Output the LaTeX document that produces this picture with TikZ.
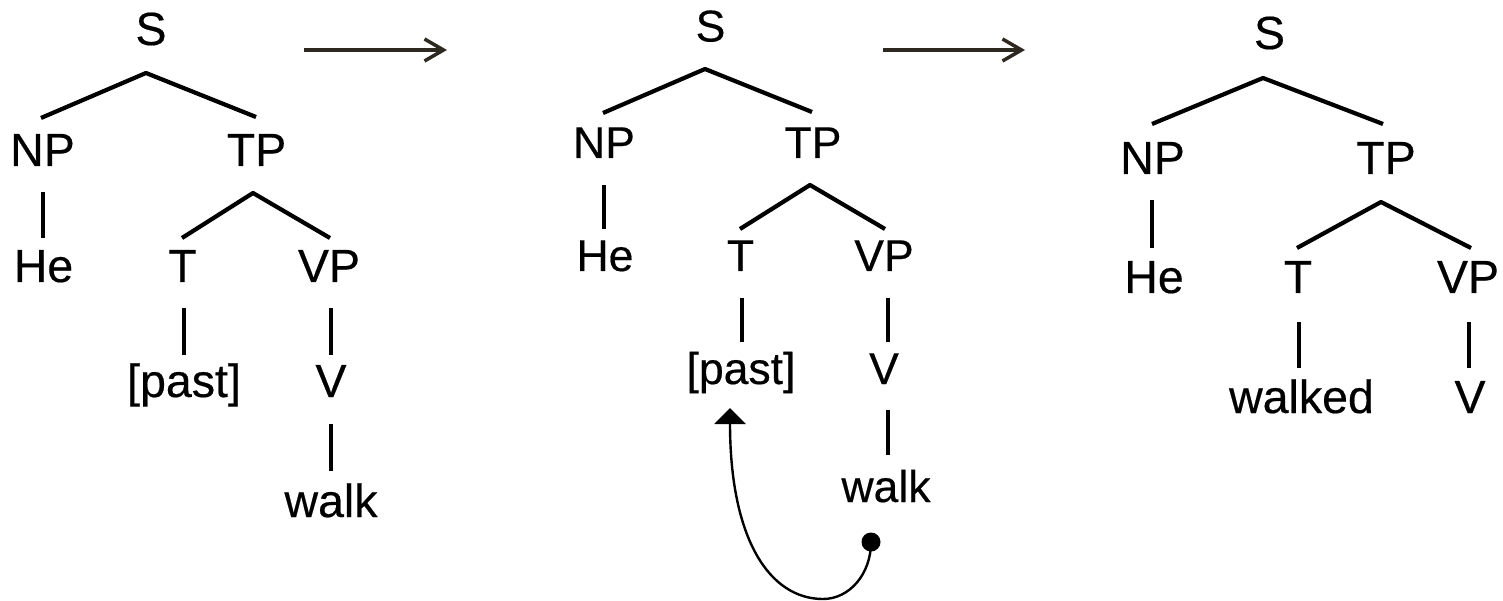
\documentclass[tikz,border=0pt]{standalone}
\usepackage{fontspec}
\setmainfont[FakeBold=0.4]{Liberation Sans}
\usetikzlibrary{calc,arrows.meta}
\definecolor{arrowcol}{RGB}{45,41,32}
\begin{document}
\begin{tikzpicture}[x=1pt,y=-1pt,
  labA/.style={anchor=base,inner sep=0pt,font=\fontsize{46.5}{50}\selectfont},
  labB/.style={anchor=base,inner sep=0pt,font=\fontsize{44.5}{48}\selectfont},
  branch/.style={line width=4.2pt,line join=round},
  steparrow/.style={arrowcol,line width=3.5pt,-{Straight Barb[length=19pt,width=22pt]}},
  move/.style={line width=2.4pt,-{Triangle[length=16pt,width=31pt]}},
  dotnode/.style={circle,fill=black,inner sep=0pt,minimum size=19pt}]
\useasboundingbox (0,0) rectangle (1503,601);
% ---------- tree 1 ----------
\node[labA] (S1) at (151,45) {S};
\node[labA] (NP1) at (42.5,166) {NP};
\node[labA] (TP1) at (256.5,166) {TP};
\node[labA] (He1) at (43.5,282) {He};
\node[labA] (T1) at (182.5,282) {T};
\node[labA] (VP1) at (329,282) {VP};
\node[labA] (past1) at (184,397) {[past]};
\node[labA] (V1) at (331,397) {V};
\node[labA] (walk1) at (331,517) {walk};
\draw[branch] ($(NP1.base)+(-1.5,-48)$) -- ($(S1.base)+(-5,28)$) -- ($(TP1.base)+(-0.5,-49)$);
\draw[branch] ($(NP1.base)+(0.5,26)$) -- ($(He1.base)+(-0.5,-44)$);
\draw[branch] ($(T1.base)+(-0.5,-44)$) -- ($(TP1.base)+(-3.5,27)$) -- ($(VP1.base)+(1,-44)$);
\draw[branch] ($(T1.base)+(1.5,26)$) -- ($(past1.base)+(0,-42)$);
\draw[branch] ($(VP1.base)+(1.7,26)$) -- ($(V1.base)+(-0.3,-42)$);
\draw[branch] ($(V1.base)+(0,27)$) -- ($(walk1.base)+(0,-46)$);
% ---------- arrow 1 ----------
\coordinate (a1s) at (304,50);
\coordinate (a1e) at (447,50);
\draw[steparrow] (a1s) -- (a1e);
% ---------- tree 2 ----------
\node[labB] (S2) at (710.5,41.5) {S};
\node[labB] (NP2) at (604,158) {NP};
\node[labB] (TP2) at (813,158) {TP};
\node[labB] (He2) at (605,271) {He};
\node[labB] (T2) at (740.5,271) {T};
\node[labB] (VP2) at (884,271) {VP};
\node[labB] (past2) at (741,384) {[past]};
\node[labB] (V2) at (884,384) {V};
\node[labB] (walk2) at (886,502) {walk};
\draw[branch] ($(NP2.base)+(-1,-45)$) -- ($(S2.base)+(-5.5,27.5)$) -- ($(TP2.base)+(-1,-46)$);
\draw[branch] ($(NP2.base)+(0,27)$) -- ($(He2.base)+(-1,-42)$);
\draw[branch] ($(T2.base)+(-0.5,-42)$) -- ($(TP2.base)+(-3,27)$) -- ($(VP2.base)+(1,-42)$);
\draw[branch] ($(T2.base)+(1.5,27)$) -- ($(past2.base)+(1,-42)$);
\draw[branch] ($(VP2.base)+(4,27)$) -- ($(V2.base)+(4,-42)$);
\draw[branch] ($(V2.base)+(4,26)$) -- ($(walk2.base)+(2,-47)$);
\node[dotnode] (dot) at (871,542) {};
\coordinate (tip) at (730,408);
\coordinate (low) at (823,599);
\draw[move] (dot.center) .. controls (871,574) and (849.5,599) .. (low)
  .. controls (770,599) and (730,540) .. (tip);
% ---------- arrow 2 ----------
\coordinate (a2s) at (883,50);
\coordinate (a2e) at (1025,50);
\draw[steparrow] (a2s) -- (a2e);
% ---------- tree 3 ----------
\node[labA] (S3) at (1269.5,49) {S};
\node[labA] (NP3) at (1152.5,174) {NP};
\node[labA] (TP3) at (1386,174) {TP};
\node[labA] (He3) at (1154,293) {He};
\node[labA] (T3) at (1298,293) {T};
\node[labA] (VP3) at (1468,293) {VP};
\node[labA] (walked3) at (1301.5,413) {walked};
\node[labA] (V3) at (1470,413) {V};
\draw[branch] ($(NP3.base)+(-0.5,-50)$) -- ($(S3.base)+(-6.5,29)$) -- ($(TP3.base)+(-3,-50)$);
\draw[branch] ($(NP3.base)+(-0.5,26)$) -- ($(He3.base)+(-2,-45)$);
\draw[branch] ($(T3.base)+(-1,-45)$) -- ($(TP3.base)+(-5,28)$) -- ($(VP3.base)+(3,-45)$);
\draw[branch] ($(T3.base)+(1,29)$) -- ($(walked3.base)+(-2.5,-45)$);
\draw[branch] ($(VP3.base)+(1,29)$) -- ($(V3.base)+(-1,-45)$);
\end{tikzpicture}
\end{document}
